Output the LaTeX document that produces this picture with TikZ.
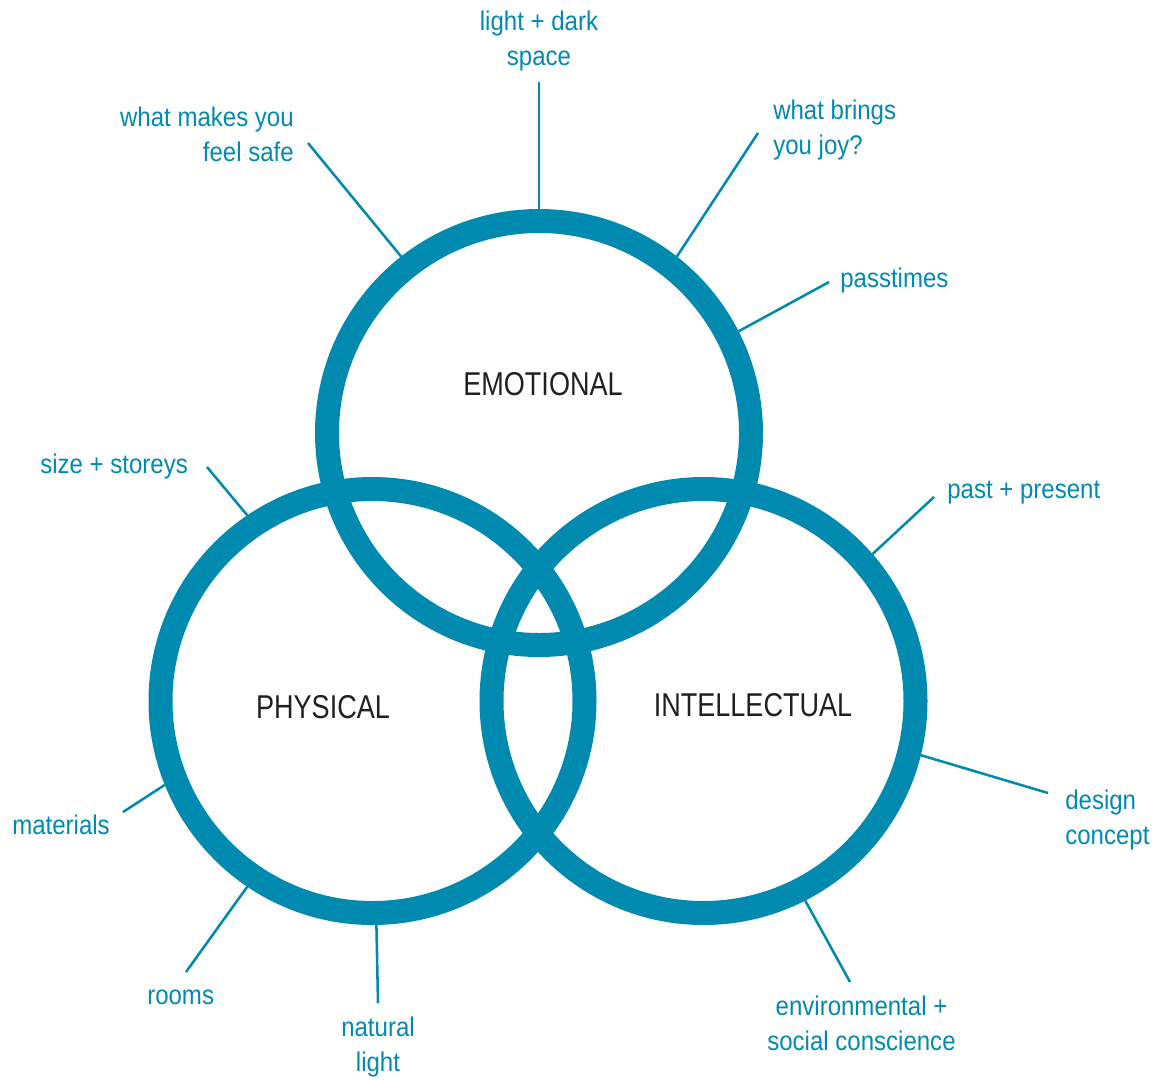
\documentclass[tikz,border=0pt]{standalone}
\usepackage{fontspec}
\setmainfont{Liberation Sans}
\newfontfamily\narrowfont[FakeStretch=0.82]{Liberation Sans}
\newfontfamily\labelfont[FakeStretch=0.89]{Liberation Sans}
\usepackage{tikz}
\definecolor{ringblue}{RGB}{0,138,176}
\definecolor{inkdark}{RGB}{35,31,32}

\begin{document}
\begin{tikzpicture}[x=0.75pt,y=-0.75pt,
    ring/.style={circle,draw=ringblue,line width=18pt,minimum size=318pt,inner sep=0pt},
    lbl/.style={text=ringblue,font=\labelfont\fontsize{20.25}{26.25}\selectfont,inner sep=0pt},
    area/.style={text=inkdark,font=\narrowfont\fontsize{24.75}{30}\selectfont,inner sep=0pt},
    lead/.style={draw=ringblue,line width=1.9pt}]
          \useasboundingbox (0,0) rectangle (1155,1079);
          \node[ring] (E) at (539,433) {};
          \node[ring] (P) at (372.5,701) {};
          \node[ring] (I) at (703.5,701) {};
          \node[area, anchor=base] (emo) at (543,395) {EMOTIONAL};
          \node[area, anchor=base] (phy) at (323,718) {PHYSICAL};
          \node[area, anchor=base] (int) at (753,716) {INTELLECTUAL};
          % labels round the rings (base = last line)
          \node[lbl, anchor=base, align=center] (light) at (539,65) {light + dark\\space};
          \node[lbl, anchor=base east, align=right] (safe) at (294,161) {what makes you\\feel safe};
          \node[lbl, anchor=base west, align=left] (joy) at (773,154) {what brings\\you joy?};
          \node[lbl, anchor=base west] (pass) at (840,287) {passtimes};
          \node[lbl, anchor=base west] (size) at (40,473) {size + storeys};
          \node[lbl, anchor=base west] (past) at (947,498) {past + present};
          \node[lbl, anchor=base west] (mat) at (12,834) {materials};
          \node[lbl, anchor=base west] (rooms) at (147,1004) {rooms};
          \node[lbl, anchor=base, align=center] (nat) at (378,1071) {natural\\light};
          \node[lbl, anchor=base, align=center] (env) at (861.5,1050) {environmental +\\social conscience};
          \node[lbl, anchor=base west, align=left] (design) at (1065,844) {design\\concept};
          \coordinate (light-end) at (539,82);
          \coordinate (safe-end) at (308,143);
          \coordinate (joy-end) at (758,133);
          \coordinate (pass-end) at (829,282);
          \coordinate (size-end) at (207,467);
          \coordinate (past-end) at (934,497);
          \coordinate (mat-end) at (123,812);
          \coordinate (rooms-end) at (186,972);
          \coordinate (nat-end) at (378,1003);
          \coordinate (env-end) at (850,982);
          \coordinate (design-end) at (1048,793);
          \path[lead] (light-end) edge (E.90)
                    (safe-end) edge (E.128.3)
                    (joy-end) edge (E.52.3)
                    (pass-end) edge (E.27.1)
                    (size-end) edge (P.124.6)
                    (mat-end) edge (P.202.8)
                    (rooms-end) edge (P.236.1)
                    (nat-end) edge (P.271.4)
                    (past-end) edge (I.41.7)
                    (env-end) edge (I.297.7)
                    (design-end) edge (I.346.8);
        \end{tikzpicture}
\end{document}
